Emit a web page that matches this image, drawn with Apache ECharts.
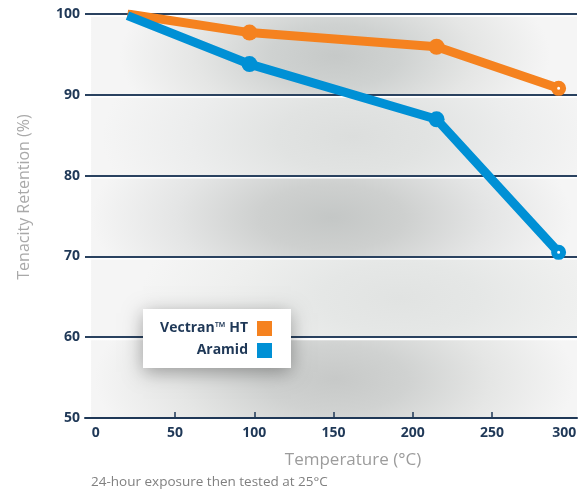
<!DOCTYPE html>
<html>
<head>
<meta charset="utf-8">
<script src="https://cdn.jsdelivr.net/npm/echarts@6/dist/echarts.min.js"></script>
<style>
html,body{margin:0;padding:0;background:#fff;}
#c{width:580px;height:489px;}
</style>
</head>
<body>
<div id="c"></div>
<script>
// ---- data ----
const seriesNames = ['Vectran\u2122 HT', 'Aramid'];
const temperature = [20, 97, 215, 292];
const vectranHT = [100, 97.7, 95.95, 90.8];
const aramid = [99.8, 93.8, 86.97, 70.5];
const xTickLabels = [0, 50, 100, 150, 200, 250, 300];
const xTickMarks = [50, 100, 150, 200, 250];
const yTicks = [50, 60, 70, 80, 90, 100];
const bandRanges = [[100, 90], [90, 80], [80, 70], [70, 60], [60, 50]];

// ---- styling (not data) ----
const NAVY = '#1f3857';
const ORANGE = '#F5821F';
const BLUE = '#0090D5';
const FONT = '"Open Sans", "DejaVu Sans", sans-serif';
// blob look per band: centre x (px), horizontal radius, vertical radius, centre colour
const bandLook = [
  {cx: 335, rx: 215, ry: 105, c: '#c6c9c8'},
  {cx: 352, rx: 250, ry: 115, c: '#dcdedd'},
  {cx: 332, rx: 240, ry: 110, c: '#c4c7c6'},
  {cx: 400, rx: 260, ry: 115, c: '#e1e3e2'},
  {cx: 335, rx: 240, ry: 110, c: '#c7c9c8'}
];
const EDGE = '#f5f5f5';

function pts(xs, ys, color) {
  return xs.map((x, i) => {
    const item = {value: [x, ys[i]]};
    if (i === 0) item.symbol = 'none';
    if (i === xs.length - 1) {
      item.symbolSize = 9;
      item.itemStyle = {color: '#ffffff', borderColor: color, borderWidth: 6};
    }
    return item;
  });
}

const chart = echarts.init(document.getElementById('c'), null, {renderer: 'canvas'});
chart.setOption({
  animation: false,
  backgroundColor: '#ffffff',
  grid: {left: 85, right: 3, top: 14, bottom: 71, containLabel: false},
  xAxis: {
    type: 'value',
    min: -6.8,
    max: 303.6,
    axisLine: {show: true, lineStyle: {color: NAVY, width: 2}},
    axisTick: {show: true, inside: true, length: 6, customValues: xTickMarks, lineStyle: {color: NAVY, width: 1.5}},
    axisLabel: {
      customValues: xTickLabels,
      margin: 8,
      color: NAVY,
      fontFamily: FONT,
      fontWeight: 'bold',
      fontSize: 14,
      formatter: function (v) { return v === 300 ? '{last|300}' : String(v); },
      rich: {last: {padding: [0, 14, 0, 0], color: NAVY, fontFamily: FONT, fontWeight: 'bold', fontSize: 14}}
    },
    splitLine: {show: false}
  },
  yAxis: {
    type: 'value',
    min: yTicks[0],
    max: yTicks[yTicks.length - 1],
    interval: 10,
    axisLine: {show: false},
    axisTick: {show: false},
    axisLabel: {margin: 5, color: NAVY, fontFamily: FONT, fontWeight: 'bold', fontSize: 14},
    splitLine: {show: true, lineStyle: {color: NAVY, width: 2, opacity: 0.95}}
  },
  legend: {
    data: seriesNames,
    orient: 'vertical',
    left: 143,
    top: 309,
    align: 'right',
    icon: 'rect',
    itemWidth: 15,
    itemHeight: 15,
    itemGap: 7,
    padding: [12, 19, 10, 13],
    backgroundColor: '#ffffff',
    shadowBlur: 18,
    shadowColor: 'rgba(0,0,0,0.35)',
    shadowOffsetX: 0,
    shadowOffsetY: 4,
    selectedMode: false,
    textStyle: {
      color: NAVY, fontFamily: FONT, fontWeight: 'bold', fontSize: 14,
      width: 92, align: 'right', lineHeight: 15, padding: [0, 4, 0, 0]
    }
  },
  graphic: [
    {type: 'text', x: 24, y: 197, rotation: Math.PI / 2,
     style: {text: 'Tenacity Retention (%)', fill: '#a9a9a9', font: '16px ' + FONT, align: 'center', verticalAlign: 'middle'}},
    {type: 'text', x: 353, y: 460,
     style: {text: 'Temperature (\u00b0C)', fill: '#9c9c9c', font: '17px ' + FONT, align: 'center', verticalAlign: 'middle'}},
    {type: 'text', x: 91, y: 482,
     style: {text: '24-hour exposure then tested at 25\u00b0C', fill: '#808080', font: '13.5px ' + FONT, align: 'left', verticalAlign: 'middle'}}
  ],
  series: [
    {
      type: 'custom',
      z: -1,
      silent: true,
      clip: false,
      data: bandRanges,
      encode: {y: [0, 1]},
      renderItem: function (params, api) {
        const hi = api.value(0), lo = api.value(1);
        const p0 = api.coord([-3, hi]);
        const p1 = api.coord([303.6, lo]);
        const left = p0[0], top = p0[1] + 3;
        const W = p1[0] - left, H = p1[1] - top;
        const look = bandLook[params.dataIndex];
        const s = look.rx / look.ry;
        const wl = W / s;
        const r = look.ry / Math.min(wl, H);
        const fx = (look.cx - left) / W;
        const grad = new echarts.graphic.RadialGradient(fx, 0.5, r, [
          {offset: 0, color: look.c},
          {offset: 0.3, color: echarts.color.lerp(0.2, [look.c, EDGE])},
          {offset: 0.65, color: echarts.color.lerp(0.65, [look.c, EDGE])},
          {offset: 1, color: EDGE}
        ]);
        return {
          type: 'rect',
          x: left, y: top, scaleX: s,
          shape: {x: 0, y: 0, width: wl, height: H},
          style: {fill: grad}
        };
      }
    },
    {
      name: seriesNames[0],
      type: 'line',
      data: pts(temperature, vectranHT, ORANGE),
      symbol: 'circle',
      symbolSize: 16,
      lineStyle: {color: ORANGE, width: 9},
      itemStyle: {color: ORANGE},
      z: 3
    },
    {
      name: seriesNames[1],
      type: 'line',
      data: pts(temperature, aramid, BLUE),
      symbol: 'circle',
      symbolSize: 16,
      lineStyle: {color: BLUE, width: 9},
      itemStyle: {color: BLUE},
      z: 4
    }
  ]
});
</script>
</body>
</html>
